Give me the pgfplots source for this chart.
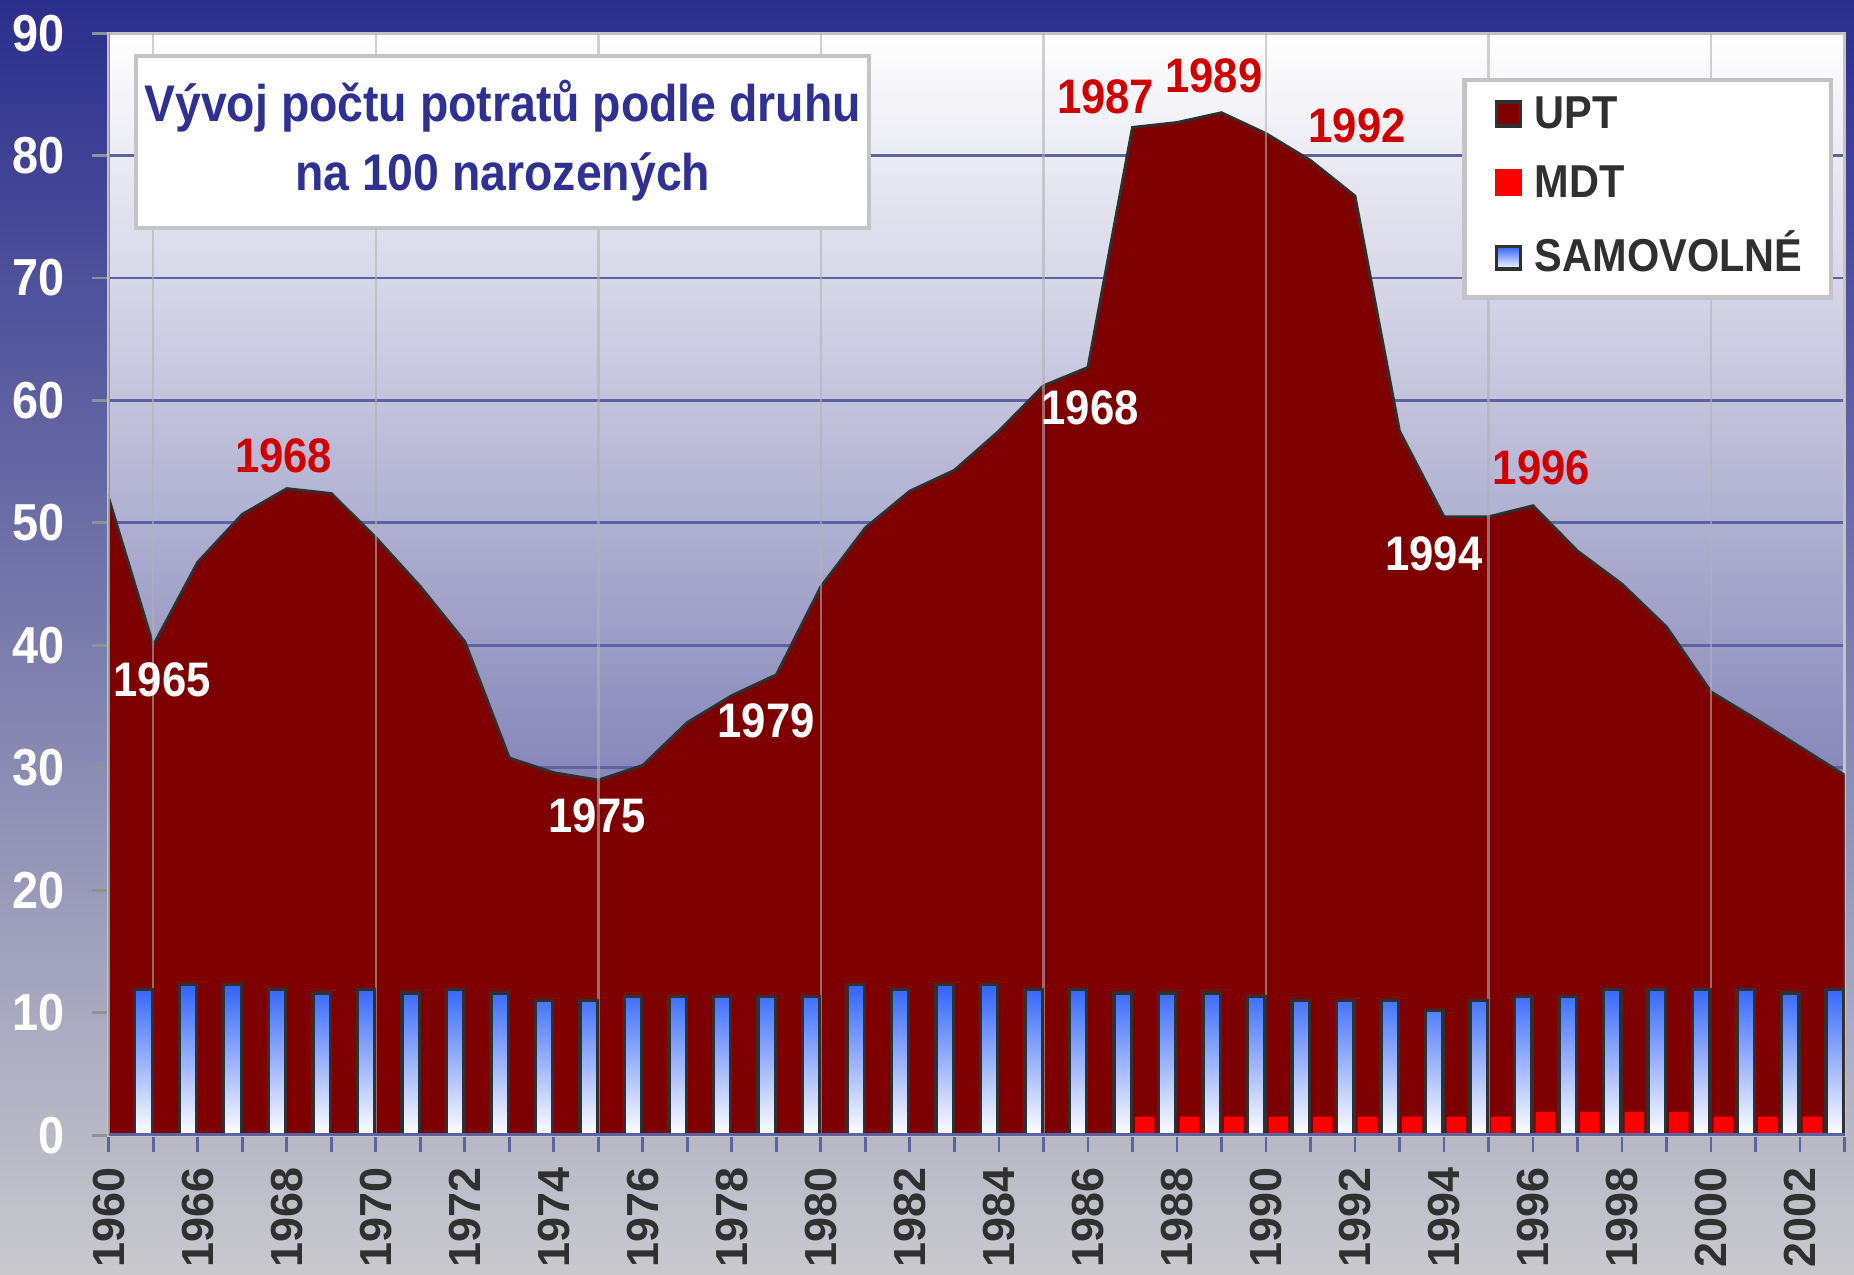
\documentclass[border=0pt]{standalone}
\usepackage{fontspec}
\setmainfont{Liberation Sans}[FakeStretch=0.9]
\newfontfamily\xfont{Liberation Sans}
\usepackage{pgfplots}
\usepackage{pgfplotstable}
\pgfplotsset{compat=1.18}

\definecolor{upt}{HTML}{7F0000}
\definecolor{mdt}{HTML}{FF0000}
\definecolor{navy}{HTML}{2E3192}
\definecolor{slate}{HTML}{5C64A0}
\definecolor{axgrey}{HTML}{8A9494}
\definecolor{boxgrey}{HTML}{C4C4C8}
\definecolor{lbl}{HTML}{D00000}
\definecolor{dk}{HTML}{303030}
\definecolor{barblue}{HTML}{2F63FF}
\definecolor{barmid}{HTML}{A0B0F8}
\definecolor{bgtop}{HTML}{2B2E8C}
\definecolor{bgmid}{HTML}{8A8CB4}
\definecolor{bgbot}{HTML}{C9C9CD}
\definecolor{plmid}{HTML}{CDCEE0}
\definecolor{plbot}{HTML}{4C4C98}
\definecolor{vgrid}{HTML}{B2B2B2}

\newcommand\lblfont{\bfseries\fontsize{20.5}{24}\selectfont}

% idx: 0=1960, 1=1965, 2=1966, ..., 39=2003
\pgfplotstableread{
idx year upt
0 1960 52.0
1 1965 40.0
2 1966 46.8
3 1967 50.7
4 1968 52.8
5 1969 52.4
6 1970 48.8
7 1971 44.8
8 1972 40.3
9 1973 30.8
10 1974 29.6
11 1975 29.0
12 1976 30.2
13 1977 33.7
14 1978 35.9
15 1979 37.6
16 1980 44.8
17 1981 49.6
18 1982 52.6
19 1983 54.3
20 1984 57.5
21 1985 61.2
22 1986 62.7
23 1987 82.3
24 1988 82.7
25 1989 83.5
26 1990 81.8
27 1991 79.6
28 1992 76.7
29 1993 57.5
30 1994 50.5
31 1995 50.5
32 1996 51.4
33 1997 47.7
34 1998 45.0
35 1999 41.5
36 2000 36.2
37 2001 34.0
38 2002 31.7
39 2003 29.4
}\upttable

\pgfplotstableread{
idx year samo
1 1965 11.9
2 1966 12.3
3 1967 12.3
4 1968 11.9
5 1969 11.6
6 1970 11.9
7 1971 11.6
8 1972 11.9
9 1973 11.6
10 1974 11.0
11 1975 11.0
12 1976 11.3
13 1977 11.3
14 1978 11.3
15 1979 11.3
16 1980 11.3
17 1981 12.3
18 1982 11.9
19 1983 12.3
20 1984 12.3
21 1985 11.9
22 1986 11.9
23 1987 11.6
24 1988 11.6
25 1989 11.6
26 1990 11.3
27 1991 11.0
28 1992 11.0
29 1993 11.0
30 1994 10.2
31 1995 11.0
32 1996 11.3
33 1997 11.3
34 1998 11.9
35 1999 11.9
36 2000 11.9
37 2001 11.9
38 2002 11.6
39 2003 11.9
}\samotable

\pgfplotstableread{
idx year mdt
24 1988 1.5
25 1989 1.5
26 1990 1.5
27 1991 1.5
28 1992 1.5
29 1993 1.5
30 1994 1.5
31 1995 1.5
32 1996 1.5
33 1997 1.9
34 1998 1.9
35 1999 1.9
36 2000 1.9
37 2001 1.5
38 2002 1.5
39 2003 1.5
}\mdttable

\begin{document}
\begin{tikzpicture}
\shade[top color=bgtop, middle color=bgmid, bottom color=bgbot] (-46pt,-59pt) rectangle (738pt,480pt);
\useasboundingbox (-46pt,-59pt) rectangle (738pt,480pt);
\begin{axis}[
  at={(0pt,0pt)}, anchor=south west,
  scale only axis, width=734pt, height=466pt,
  xmin=0, xmax=39, ymin=0, ymax=90,
  axis background/.style={top color=white, middle color=plmid, bottom color=plbot},
  axis line style={draw=boxgrey, line width=1.2pt},
  tick pos=left, tick align=outside, major tick length=7pt,
  xtick={0,...,39},
  xticklabels={1960,,1966,,1968,,1970,,1972,,1974,,1976,,1978,,1980,,1982,,1984,,1986,,1988,,1990,,1992,,1994,,1996,,1998,,2000,,2002,},
  ytick={0,10,...,90},
  xtick style={draw=slate, line width=1.2pt},
  ytick style={draw=axgrey, line width=1.2pt},
  ymajorgrids, major grid style={draw=slate, line width=1.2pt},
  /pgf/number format/assume math mode=true,
  yticklabel style={font=\bfseries\fontsize{22}{26}\selectfont, text=white, anchor=east, xshift=-8pt},
  xticklabel style={font=\xfont\bfseries\fontsize{19}{22}\selectfont, text=dk, yshift=-3pt, rotate=90, anchor=east},
]
% UPT area
\addplot[fill=upt, draw=dk, line width=1.2pt] table[x=idx, y=upt] {\upttable} \closedcycle;
% vertical grid lines (drawn over the area)
\addplot[ycomb, no markers, draw=vgrid, opacity=0.6, line width=1pt] coordinates {(1,90) (6,90) (11,90) (16,90) (21,90) (26,90) (31,90) (36,90)};
% MDT bars
\addplot[ybar, bar width=0.43, bar shift=0pt, fill=mdt, draw=none] table[x expr=\thisrow{idx}-0.725, y=mdt] {\mdttable};
% SAMOVOLNE bars
\addplot[ybar, bar width=0.39, bar shift=0pt, draw=dk, line width=1.4pt, top color=barblue, middle color=barmid, bottom color=white] table[x expr=\thisrow{idx}-0.22, y=samo] {\samotable};

% axis lines
\draw[axgrey, line width=1.4pt] (rel axis cs:0,0) -- (rel axis cs:0,1);
\draw[slate, line width=1.4pt] (rel axis cs:0,0) -- (rel axis cs:1,0);

% data labels
\node[text=white, font=\lblfont] at (axis cs:1.2,37.2) {1965};
\node[text=lbl, font=\lblfont] at (axis cs:3.93,55.5) {1968};
\node[text=white, font=\lblfont] at (axis cs:10.97,26.1) {1975};
\node[text=white, font=\lblfont] at (axis cs:14.77,33.8) {1979};
\node[text=white, font=\lblfont] at (axis cs:22.05,59.4) {1968};
\node[text=lbl, font=\lblfont] at (axis cs:22.4,84.8) {1987};
\node[text=lbl, font=\lblfont] at (axis cs:24.83,86.5) {1989};
\node[text=lbl, font=\lblfont] at (axis cs:28.05,82.4) {1992};
\node[text=white, font=\lblfont] at (axis cs:29.77,47.5) {1994};
\node[text=lbl, font=\lblfont] at (axis cs:32.19,54.5) {1996};

% title box
\draw[boxgrey, line width=1.8pt, fill=white] (axis cs:0.61,88.1) rectangle (axis cs:17.08,74.1);
\node[align=center, text=navy, font=\bfseries\fontsize{21.8}{29}\selectfont] at (axis cs:8.85,81.2) {Vývoj počtu potratů podle druhu\\na 100 narozených};

% legend box
\draw[boxgrey, line width=1.8pt, fill=white] (axis cs:30.46,86.2) rectangle (axis cs:38.7,68.4);
\node[draw=dk, line width=1.5pt, fill=upt, minimum size=10pt, inner sep=0pt] at (axis cs:31.45,83.4) {};
\node[fill=mdt, minimum size=11.5pt, inner sep=0pt] at (axis cs:31.45,77.8) {};
\node[draw=dk, line width=1.5pt, top color=barblue, bottom color=white, minimum width=10pt, minimum height=9.5pt, inner sep=0pt] at (axis cs:31.45,71.65) {};
\node[anchor=west, inner sep=0pt, text=dk, text height=14pt, text depth=0pt, font=\bfseries\fontsize{19.5}{22}\selectfont] at (axis cs:32.03,83.6) {UPT};
\node[anchor=west, inner sep=0pt, text=dk, text height=14pt, text depth=0pt, font=\bfseries\fontsize{19.5}{22}\selectfont] at (axis cs:32.03,77.9) {MDT};
\node[anchor=west, inner sep=0pt, text=dk, text height=14pt, text depth=0pt, font=\bfseries\fontsize{19.5}{22}\selectfont] at (axis cs:32.03,71.9) {SAMOVOLNÉ};
\end{axis}
\end{tikzpicture}
\end{document}
